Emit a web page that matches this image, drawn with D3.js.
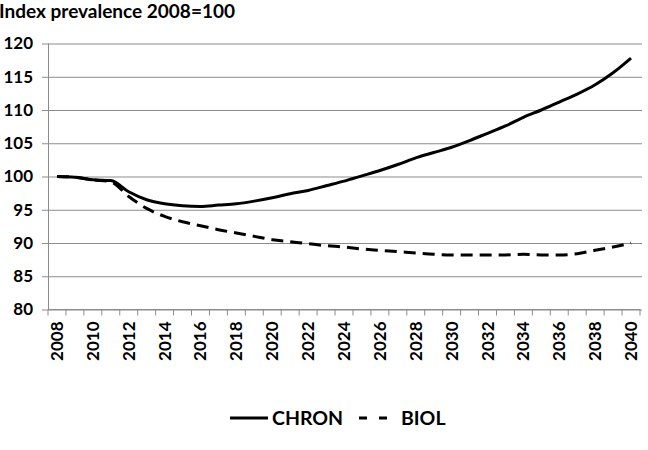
<!DOCTYPE html>
<html>
<head>
<meta charset="utf-8">
<script src="https://cdn.jsdelivr.net/npm/d3@7"></script>
<style>
  body { margin: 0; background: #fff; }
  text { font-family: Lato, "Open Sans", sans-serif; font-weight: bold; fill: #000; }
</style>
</head>
<body>
<svg width="648" height="450"></svg>
<script>
const svg = d3.select("svg");

// data
const years = d3.range(2008, 2041);
const chron = [100, 99.9, 99.5, 99.4, 97.7, 96.5, 95.9, 95.6, 95.5, 95.7, 95.9, 96.3, 96.8,
  97.4, 97.9, 98.6, 99.3, 100.1, 100.9, 101.8, 102.8, 103.6, 104.4, 105.4, 106.5, 107.6,
  108.9, 110.0, 111.2, 112.4, 113.8, 115.6, 117.8];
const biol = [100, 99.9, 99.5, 99.2, 97.0, 95.2, 94.0, 93.2, 92.6, 92.0, 91.5, 91.0, 90.5,
  90.2, 89.9, 89.6, 89.4, 89.1, 88.9, 88.7, 88.5, 88.3, 88.2, 88.2, 88.2, 88.2, 88.3,
  88.2, 88.2, 88.4, 88.9, 89.4, 90.0];
const yTicks = [80, 85, 90, 95, 100, 105, 110, 115, 120];
const xLabels = d3.range(2008, 2041, 2);

const x = d3.scaleBand().domain(years).range([48, 640]);
const y = d3.scaleLinear().domain([80, 120]).range([309.5, 43.5]);

// title
svg.append("text").attr("x", -1).attr("y", 18).style("font-size", "19px")
  .text("Index prevalence 2008=100");

// y gridlines + labels
const gy = svg.append("g")
  .attr("transform", "translate(48,0)")
  .call(d3.axisLeft(y).tickValues(yTicks).tickSize(-592).tickSizeOuter(0).tickPadding(15));
gy.select(".domain").remove();
gy.selectAll("line").attr("stroke", "#8c8c8c").attr("x1", -6).attr("x2", 594);
gy.selectAll("text").style("font-size", "17px").style("font-family", "Lato, sans-serif")
  .attr("fill", "#000");

// y axis line
svg.append("line").attr("x1", 48.5).attr("x2", 48.5).attr("y1", y(120)).attr("y2", y(80))
  .attr("stroke", "#8c8c8c");

// x axis: ticks between categories
const gx = svg.append("g").attr("transform", `translate(0,${y(80)})`);
gx.append("line").attr("x1", 48).attr("x2", 640).attr("stroke", "#8c8c8c");
gx.selectAll("line.tk").data(years.concat([2041])).join("line").attr("class", "tk")
  .attr("x1", d => d === 2041 ? 640 : x(d)).attr("x2", d => d === 2041 ? 640 : x(d))
  .attr("y1", 0).attr("y2", 6).attr("stroke", "#8c8c8c");
gx.selectAll("text").data(xLabels).join("text")
  .attr("transform", d => `translate(${x(d) + x.bandwidth() / 2 + 6},12) rotate(-90)`)
  .attr("text-anchor", "end")
  .style("font-size", "17px")
  .text(d => d);

// lines
const line = d3.line()
  .x((d, i) => x(years[i]) + x.bandwidth() / 2)
  .y(d => y(d))
  .curve(d3.curveMonotoneX);

svg.append("path").datum(biol).attr("d", line)
  .attr("fill", "none").attr("stroke", "#000").attr("stroke-width", 3)
  .attr("stroke-dasharray", "12,7");
svg.append("path").datum(chron).attr("d", line)
  .attr("fill", "none").attr("stroke", "#000").attr("stroke-width", 3);

// legend
const lg = svg.append("g").attr("transform", "translate(0,418)");
lg.append("line").attr("x1", 230).attr("x2", 268).attr("stroke", "#000").attr("stroke-width", 3);
lg.append("text").attr("x", 272).attr("y", 7).style("font-size", "19.5px").text("CHRON");
lg.append("line").attr("x1", 359).attr("x2", 397).attr("stroke", "#000").attr("stroke-width", 3)
  .attr("stroke-dasharray", "8,12");
lg.append("text").attr("x", 401).attr("y", 7).style("font-size", "19.5px").text("BIOL");
</script>
</body>
</html>
